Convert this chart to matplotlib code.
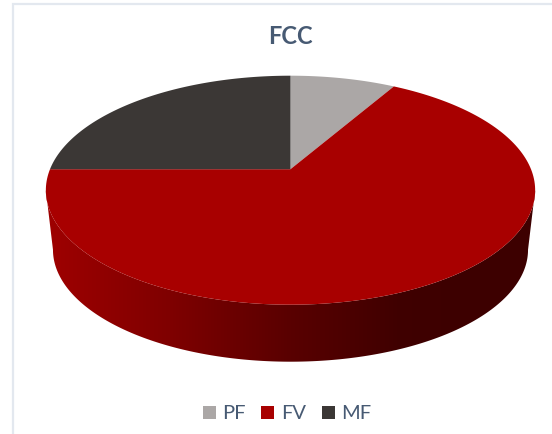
"""
FCC 3D pie chart, drawn in pixel coordinates with a perspective projection.
"""

import numpy as np
import matplotlib
matplotlib.use("Agg")
import matplotlib.pyplot as plt
from matplotlib.patches import Polygon, Rectangle

labels = ["PF", "FV", "MF"]
shares = [8.3, 66.7, 25.0]
colors = ["#aba7a6", "#a80000", "#3b3735"]

TEXT_COL = "#475a73"
BORDER_COL = "#e3e8ef"
FONT = "Lato"

# perspective of the pie disc
K = 0.1834
CX = 290.5
TOP = dict(y0=170.2, a=240.5, b=110.65)
BOT = dict(y0=230.2, a=233.5, b=108.2)


def project(theta, y0, a, b):
    # theta runs clockwise from 12 o'clock on the real circle
    u, v = np.sin(theta), np.cos(theta)
    d = 1 + K * v
    return CX + a * u / d, y0 - b * v / d


def wall_shade(x):
    # darkening of the side wall from left to right
    return np.interp(x, [50, 170, 290, 400, 450, 530], [0.92, 0.74, 0.52, 0.37, 0.36, 0.36])


fig = plt.figure(figsize=(5.52, 4.35), dpi=100)
ax = fig.add_axes([0, 0, 1, 1])
ax.axis("off")

# chart frame, only top and left are in the crop
ax.plot([13, 13, 552], [435, 4.5, 4.5], color=BORDER_COL, lw=1.6, solid_joinstyle="miter")

# side wall, one gradient clipped to the outline
th0 = np.arccos(-K)
ts = np.linspace(th0, 2 * np.pi - th0, 300)
xt, yt = project(ts, **TOP)
xb, yb = project(ts, **BOT)
base = np.array(matplotlib.colors.to_rgb(colors[1]))
grad_x = np.linspace(40, 540, 500)
grad = np.clip(base[None, None, :] * wall_shade(grad_x)[None, :, None] / 0.98, 0, 1)
wall = Polygon(np.c_[np.r_[xt, xb[::-1]], np.r_[yt, yb[::-1]]], closed=True,
               facecolor="none", edgecolor="none")
ax.add_patch(wall)
im = ax.imshow(grad, extent=(40, 540, 370, 170), aspect="auto", interpolation="bilinear")
im.set_clip_path(wall)

# top face
start = 0.0
for share, col in zip(shares, colors):
    end = start + share / sum(shares) * 2 * np.pi
    ts = np.linspace(start, end, 200)
    x, y = project(ts, **TOP)
    ax.fill(np.r_[CX, x], np.r_[TOP["y0"], y], color=col, lw=0)
    start = end

ax.text(290.5, 36, "FCC", ha="center", va="center", fontsize=17, fontweight="bold",
        family=FONT, color=TEXT_COL)

# legend
for label, col, x in zip(labels, colors, [202.5, 261, 321.5]):
    ax.add_patch(Rectangle((x, 406.5), 13, 13, facecolor=col, edgecolor="none"))
    ax.text(x + 20, 414, label, ha="left", va="center", fontsize=14.5,
            family=FONT, color=TEXT_COL)

ax.set_xlim(0, 552)
ax.set_ylim(435, 0)

fig.savefig("out.png", dpi=100)
